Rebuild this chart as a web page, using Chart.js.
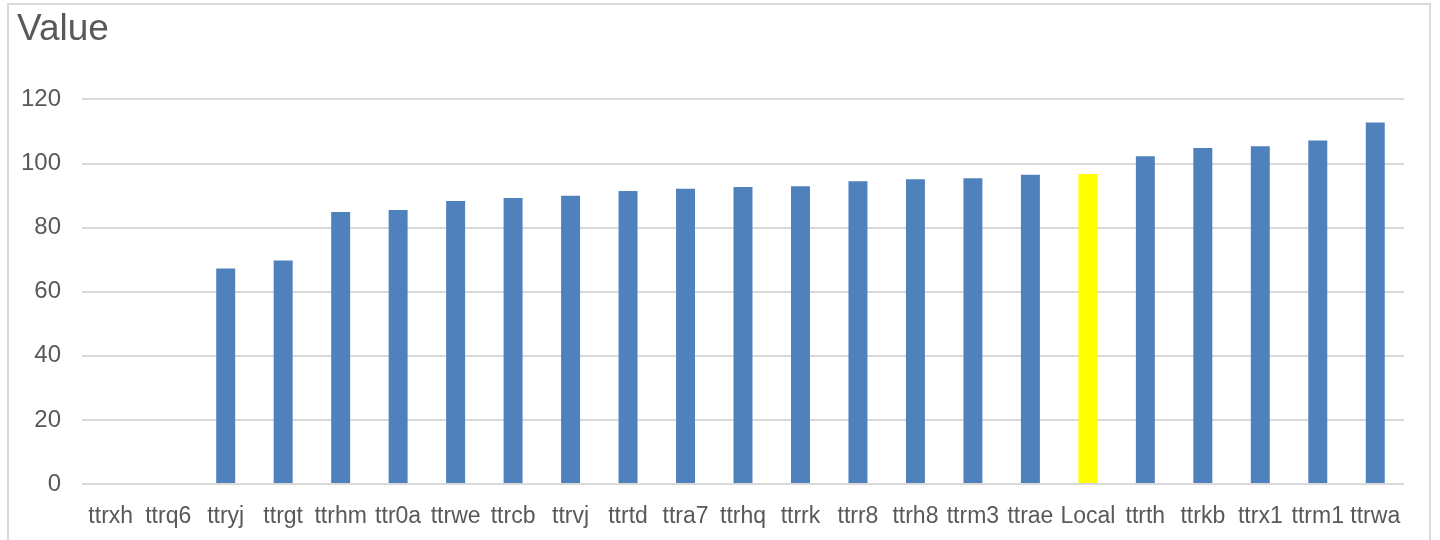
<!DOCTYPE html>
<html>
<head>
<meta charset="utf-8">
<script src="https://cdn.jsdelivr.net/npm/chart.js@4.4.0/dist/chart.umd.min.js"></script>
<style>
  html, body { margin: 0; padding: 0; background: #fff; }
  #wrap { position: relative; width: 1440px; height: 540px; overflow: hidden; }
  #frame { position: absolute; left: 7px; top: 3px; width: 1424px; height: 560px;
           border: 2px solid #d9d9d9; box-sizing: border-box; }
  canvas { position: absolute; left: 0; top: 0; }
</style>
</head>
<body>
<div id="wrap">
  <div id="frame"></div>
  <canvas id="myChart" width="1440" height="540"></canvas>
</div>
<script>
var categories = ['ttrxh', 'ttrq6', 'ttryj', 'ttrgt', 'ttrhm', 'ttr0a', 'ttrwe', 'ttrcb',
    'ttrvj', 'ttrtd', 'ttra7', 'ttrhq', 'ttrrk', 'ttrr8', 'ttrh8', 'ttrm3', 'ttrae',
    'Local', 'ttrth', 'ttrkb', 'ttrx1', 'ttrm1', 'ttrwa'];
var values = [0, 0, 67.2, 69.7, 84.9, 85.5, 88.3, 89.2, 89.9, 91.4, 92.1, 92.7, 92.9,
    94.5, 95.1, 95.4, 96.5, 96.7, 102.3, 104.8, 105.4, 107.2, 112.8];
var yTicks = [0, 20, 40, 60, 80, 100, 120];
var highlight = 'Local';

var barColors = categories.map(function (c) {
    return c === highlight ? '#ffff00' : '#4f81bd';
});

var ctx = document.getElementById('myChart').getContext('2d');

var myChart = new Chart(ctx, {
    type: 'bar',
    data: {
        labels: categories,
        datasets: [{
            label: 'Value',
            data: values,
            backgroundColor: barColors,
            borderWidth: 0,
            barPercentage: 0.66,
            categoryPercentage: 0.5
        }]
    },
    options: {
        responsive: false,
        animation: false,
        layout: {
            padding: { left: 17, right: 36, top: 4, bottom: 0 }
        },
        plugins: {
            legend: { display: false },
            tooltip: { enabled: false },
            title: {
                display: true,
                text: 'Value',
                align: 'start',
                color: '#595959',
                font: { family: 'Liberation Sans, Arial, sans-serif', size: 37, weight: 'normal' },
                padding: { top: 4, bottom: 47 }
            }
        },
        scales: {
            x: {
                grid: { display: false },
                border: { display: false },
                ticks: {
                    color: '#595959',
                    padding: 11,
                    maxRotation: 0,
                    autoSkip: false,
                    font: { family: 'Liberation Sans, Arial, sans-serif', size: 23 }
                },
                afterFit: function (scale) { scale.height = 56; }
            },
            y: {
                min: 0,
                max: 120,
                afterBuildTicks: function (scale) {
                    scale.ticks = yTicks.map(function (v) { return { value: v }; });
                },
                afterFit: function (scale) { scale.width = 65; },
                grid: { color: '#d9d9d9', lineWidth: 2, drawTicks: false },
                border: { display: false },
                ticks: {
                    color: '#595959',
                    padding: 21,
                    font: { family: 'Liberation Sans, Arial, sans-serif', size: 24 }
                }
            }
        }
    }
});
</script>
</body>
</html>
